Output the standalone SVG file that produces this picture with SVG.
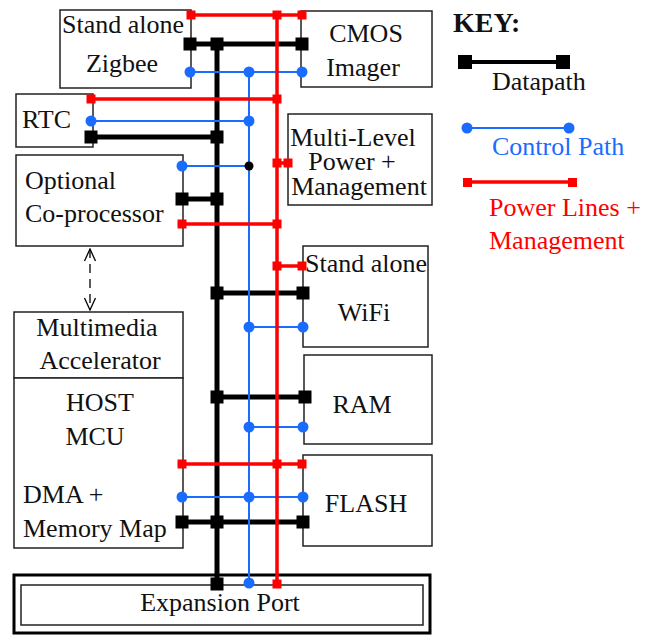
<svg xmlns="http://www.w3.org/2000/svg" width="660" height="635" viewBox="0 0 660 635">
<defs>
<rect id="bsq" fill="#000" x="-6.5" y="-6.5" width="13" height="13"/>
<rect id="rsq" fill="#ff0000" x="-4.5" y="-4.5" width="9" height="9"/>
<circle id="bdot" fill="#1a6cff" r="5.5"/>
<marker id="arr" viewBox="0 0 14 14" refX="13" refY="7" markerWidth="14" markerHeight="14" orient="auto-start-reverse" markerUnits="userSpaceOnUse">
<path d="M1,1.5 L13,7 L1,12.5" fill="none" stroke="#000" stroke-width="1.3"/>
</marker>
</defs>
<rect width="660" height="635" fill="#fff"/>
<g font-family="Liberation Serif" font-size="26" fill="#111">
<g id="zigbee"><rect fill="#fff" stroke="#222" stroke-width="1.5" x="60" y="10" width="131" height="78"/><text x="62" y="33">Stand alone</text><text x="122" y="72" text-anchor="middle">Zigbee</text></g>
<g id="cmos"><rect fill="#fff" stroke="#222" stroke-width="1.5" x="301" y="11" width="131" height="76"/><text x="366" y="42" text-anchor="middle">CMOS</text><text x="363" y="76" text-anchor="middle">Imager</text></g>
<g id="rtc"><rect fill="#fff" stroke="#222" stroke-width="1.5" x="16" y="94" width="77" height="53"/><text x="22" y="128">RTC</text></g>
<g id="coproc"><rect fill="#fff" stroke="#222" stroke-width="1.5" x="16" y="155" width="167" height="91"/><text x="25" y="189">Optional</text><text x="25" y="222">Co-processor</text></g>
<g id="power"><rect fill="#fff" stroke="#222" stroke-width="1.5" x="288" y="114" width="144" height="91"/><text x="353" y="146" text-anchor="middle">Multi-Level</text><text x="352" y="170" text-anchor="middle">Power +</text><text x="359" y="195" text-anchor="middle">Management</text></g>
<g id="wifi"><rect fill="#fff" stroke="#222" stroke-width="1.5" x="303" y="246" width="125" height="101"/><text x="366" y="272" text-anchor="middle">Stand alone</text><text x="364" y="321" text-anchor="middle">WiFi</text></g>
<g id="ram"><rect fill="#fff" stroke="#222" stroke-width="1.5" x="304" y="355" width="128" height="89"/><text x="362" y="413" text-anchor="middle">RAM</text></g>
<g id="flash"><rect fill="#fff" stroke="#222" stroke-width="1.5" x="303" y="455" width="129" height="91"/><text x="366" y="512" text-anchor="middle">FLASH</text></g>
<g id="multimedia"><rect fill="#fff" stroke="#222" stroke-width="1.5" x="14" y="312" width="169" height="66"/><text x="97" y="336" text-anchor="middle">Multimedia</text><text x="100" y="369" text-anchor="middle">Accelerator</text></g>
<g id="host"><rect fill="#fff" stroke="#222" stroke-width="1.5" x="14" y="378" width="169" height="170"/><text x="100" y="411" text-anchor="middle">HOST</text><text x="95" y="445" text-anchor="middle">MCU</text><text x="23" y="503">DMA +</text><text x="23" y="537">Memory Map</text></g>
<g id="expansion"><rect x="14" y="575" width="416" height="58" fill="#fff" stroke="#000" stroke-width="3"/><rect x="21" y="585" width="402" height="40" fill="none" stroke="#222" stroke-width="1.5"/><text x="220" y="611" text-anchor="middle">Expansion Port</text></g>
</g>
<g id="connectors">
<line x1="90" y1="249" x2="90" y2="310" stroke="#000" stroke-width="1.3" stroke-dasharray="9,6" marker-start="url(#arr)" marker-end="url(#arr)"/>
<g stroke="#000" stroke-width="5" fill="none">
<line x1="217" y1="44" x2="217" y2="583"/>
<line x1="190" y1="44" x2="302" y2="44"/>
<line x1="91" y1="137" x2="217" y2="137"/>
<line x1="182" y1="199" x2="217" y2="199"/>
<line x1="217" y1="293" x2="303" y2="293"/>
<line x1="217" y1="397" x2="305" y2="397"/>
<line x1="182" y1="522" x2="303" y2="522"/>
</g>
<g stroke="#1a6cff" stroke-width="2" fill="none">
<line x1="249" y1="72" x2="249" y2="583"/>
<line x1="190" y1="72" x2="302" y2="72"/>
<line x1="91" y1="121" x2="249" y2="121"/>
<line x1="182" y1="166" x2="249" y2="166"/>
<line x1="249" y1="327" x2="303" y2="327"/>
<line x1="249" y1="427" x2="303" y2="427"/>
<line x1="182" y1="497" x2="303" y2="497"/>
</g>
<g stroke="#ff0000" stroke-width="3.5" fill="none">
<line x1="277" y1="15" x2="277" y2="583"/>
<line x1="191" y1="15" x2="302" y2="15"/>
<line x1="91" y1="99" x2="277" y2="99"/>
<line x1="277" y1="163" x2="288" y2="163"/>
<line x1="182" y1="224" x2="277" y2="224"/>
<line x1="277" y1="266" x2="302" y2="266"/>
<line x1="182" y1="464" x2="302" y2="464"/>
</g>
<use href="#rsq" x="191" y="15"/><use href="#rsq" x="277" y="15"/><use href="#rsq" x="302" y="15"/>
<use href="#rsq" x="91" y="99"/><use href="#rsq" x="277" y="99"/>
<use href="#rsq" x="277" y="163"/><use href="#rsq" x="288" y="163"/>
<use href="#rsq" x="182" y="224"/><use href="#rsq" x="277" y="224"/>
<use href="#rsq" x="277" y="266"/><use href="#rsq" x="302" y="266"/>
<use href="#rsq" x="182" y="464"/><use href="#rsq" x="277" y="464"/><use href="#rsq" x="302" y="464"/>
<use href="#rsq" x="277" y="584"/>
<use href="#bsq" x="190" y="44"/><use href="#bsq" x="217" y="44"/><use href="#bsq" x="302" y="44"/>
<use href="#bsq" x="91" y="137"/><use href="#bsq" x="217" y="137"/>
<use href="#bsq" x="182" y="199"/><use href="#bsq" x="217" y="199"/>
<use href="#bsq" x="217" y="293"/><use href="#bsq" x="303" y="293"/>
<use href="#bsq" x="217" y="397"/><use href="#bsq" x="305" y="397"/>
<use href="#bsq" x="182" y="522"/><use href="#bsq" x="217" y="522"/><use href="#bsq" x="303" y="522"/>
<use href="#bsq" x="217" y="584"/>
<use href="#bdot" x="190" y="72"/><use href="#bdot" x="249" y="72"/><use href="#bdot" x="302" y="72"/>
<use href="#bdot" x="91" y="121"/><use href="#bdot" x="249" y="121"/>
<use href="#bdot" x="182" y="166"/><circle cx="249" cy="166" r="4.5" fill="#000"/>
<use href="#bdot" x="249" y="327"/><use href="#bdot" x="303" y="327"/>
<use href="#bdot" x="249" y="427"/><use href="#bdot" x="303" y="427"/>
<use href="#bdot" x="182" y="497"/><use href="#bdot" x="249" y="497"/><use href="#bdot" x="303" y="497"/>
<use href="#bdot" x="249" y="583"/>
</g>
<g id="key" font-family="Liberation Serif" font-size="26">
<text x="453" y="32" font-size="28" font-weight="bold" fill="#111">KEY:</text>
<line x1="465" y1="62" x2="563" y2="62" stroke="#000" stroke-width="4"/>
<rect fill="#000" x="458" y="55" width="14" height="14"/><rect fill="#000" x="556" y="55" width="14" height="14"/>
<text fill="#111" x="492" y="90">Datapath</text>
<line x1="467" y1="128" x2="569" y2="128" stroke="#1a6cff" stroke-width="2"/>
<circle fill="#1a6cff" cx="467" cy="128" r="5.5"/><circle fill="#1a6cff" cx="569" cy="128" r="5.5"/>
<text fill="#1a6cff" x="492" y="155">Control Path</text>
<line x1="467" y1="182" x2="572" y2="182" stroke="#ff0000" stroke-width="3.5"/>
<rect fill="#ff0000" x="463" y="178" width="9" height="9"/><rect fill="#ff0000" x="568" y="178" width="9" height="9"/>
<text fill="#ff0000" x="489" y="216">Power Lines +</text>
<text fill="#ff0000" x="489" y="249">Management</text>
</g>
</svg>
